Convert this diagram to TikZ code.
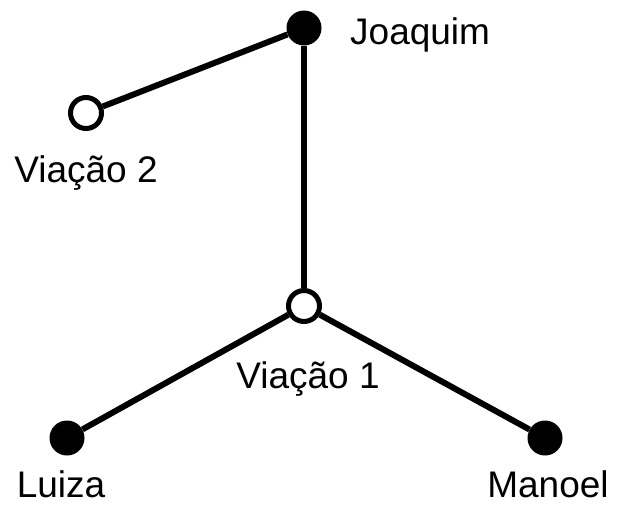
\documentclass[tikz,border=0pt]{standalone}
\usepackage{fontspec}
\setmainfont{Liberation Sans}
\tikzset{
  dotfull/.style={circle,fill=black,inner sep=0pt,minimum size=35pt},
  dotopen/.style={circle,draw=black,line width=5pt,fill=white,inner sep=0pt,minimum size=31pt},
  tag/.style={font=\fontsize{37}{40}\selectfont,anchor=base,inner sep=0pt}
}
\begin{document}
\begin{tikzpicture}[x=1pt,y=-1pt]
      \useasboundingbox (0,0) rectangle (617,515);
      \draw
        (304,28) node[dotfull] (joaquim){}
        (86,113) node[dotopen] (viacao2){}
        (304,306) node[dotopen] (viacao1){}
        (67,438) node[dotfull] (luiza){}
        (545,438) node[dotfull] (manoel){};
      \draw
        (350,44) node[tag,anchor=base west] (tjoaquim){Joaquim}
        (86,182) node[tag] (tviacao2){Viação 2}
        (308,388) node[tag] (tviacao1){Viação 1}
        (61,497) node[tag] (tluiza){Luiza}
        (548,497) node[tag] (tmanoel){Manoel};
      \begin{scope}[line width=6pt]
        \draw (joaquim) to (viacao2);
        \draw (joaquim) to (viacao1);
        \draw (viacao1) to (luiza);
        \draw (viacao1) to (manoel);
      \end{scope}
    \end{tikzpicture}
\end{document}
